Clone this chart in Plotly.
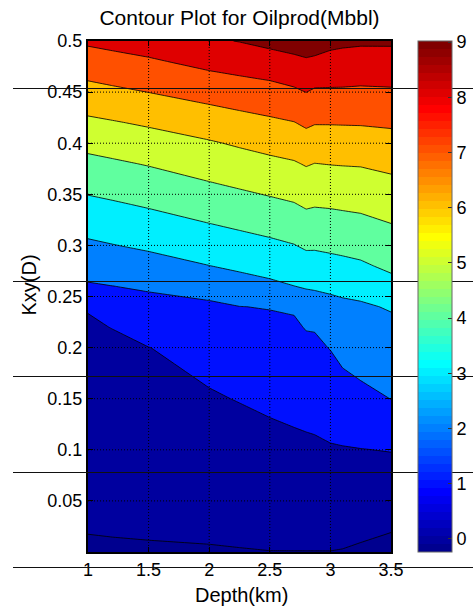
import plotly.graph_objects as go

# ---------------- data ----------------
depth_km = [1.0, 1.2, 1.5, 2.0, 2.25, 2.5, 2.7, 2.8, 2.87, 3.0, 3.1, 3.25, 3.5]
kxy_d = [0.0, 0.05, 0.1, 0.15, 0.2, 0.22, 0.24, 0.26, 0.28, 0.30,
         0.32, 0.34, 0.36, 0.38, 0.40, 0.42, 0.44, 0.46, 0.48, 0.50]
oilprod_mbbl = [
    [-0.08, -0.07, -0.06, -0.05, -0.03, -0.01, -0.01, -0.01, -0.01, -0.01, -0.03, -0.10, -0.24],
    [0.15, 0.17, 0.20, 0.28, 0.32, 0.37, 0.41, 0.42, 0.43, 0.46, 0.46, 0.44, 0.39],
    [0.38, 0.42, 0.47, 0.61, 0.67, 0.76, 0.82, 0.85, 0.87, 0.93, 0.95, 0.98, 1.03],
    [0.61, 0.66, 0.73, 0.93, 1.03, 1.14, 1.23, 1.28, 1.31, 1.46, 1.59, 1.77, 2.01],
    [0.84, 0.90, 0.99, 1.26, 1.57, 1.65, 1.71, 1.82, 1.85, 2.03, 2.27, 2.42, 2.57],
    [0.94, 1.01, 1.35, 1.70, 1.78, 1.84, 1.89, 2.04, 2.05, 2.39, 2.55, 2.66, 2.80],
    [1.03, 1.50, 1.71, 1.93, 1.99, 2.03, 2.08, 2.55, 2.61, 2.75, 2.83, 2.89, 3.07],
    [1.90, 1.99, 2.11, 2.16, 2.60, 2.80, 2.99, 3.07, 3.10, 3.16, 3.22, 3.30, 3.68],
    [2.39, 2.48, 2.64, 2.99, 3.17, 3.34, 3.48, 3.61, 3.62, 3.70, 3.76, 3.87, 4.18],
    [2.85, 2.97, 3.15, 3.48, 3.64, 3.81, 3.97, 4.13, 4.12, 4.19, 4.25, 4.33, 4.58],
    [3.31, 3.44, 3.62, 3.96, 4.13, 4.30, 4.46, 4.62, 4.59, 4.64, 4.69, 4.75, 4.97],
    [3.78, 3.90, 4.09, 4.45, 4.62, 4.80, 4.95, 5.11, 5.06, 5.09, 5.13, 5.19, 5.38],
    [4.26, 4.38, 4.57, 4.94, 5.12, 5.30, 5.43, 5.59, 5.53, 5.56, 5.59, 5.63, 5.79],
    [4.75, 4.87, 5.06, 5.43, 5.61, 5.79, 5.92, 6.07, 5.99, 6.03, 6.05, 6.07, 6.22],
    [5.26, 5.39, 5.58, 5.91, 6.11, 6.30, 6.44, 6.61, 6.52, 6.54, 6.55, 6.57, 6.67],
    [5.81, 5.93, 6.12, 6.48, 6.66, 6.83, 6.97, 7.15, 7.05, 7.05, 7.06, 7.07, 7.13],
    [6.38, 6.51, 6.72, 7.06, 7.23, 7.39, 7.55, 7.72, 7.60, 7.60, 7.60, 7.59, 7.63],
    [6.97, 7.11, 7.30, 7.67, 7.82, 7.96, 8.15, 8.30, 8.17, 8.15, 8.14, 8.10, 8.13],
    [7.56, 7.69, 7.88, 8.27, 8.42, 8.60, 8.78, 8.89, 8.82, 8.70, 8.66, 8.62, 8.63],
    [8.15, 8.28, 8.46, 8.88, 9.03, 9.25, 9.41, 9.49, 9.47, 9.25, 9.18, 9.13, 9.13],
]

level_start, level_end, level_step = 0, 9, 1
x_ticks = [1, 1.5, 2, 2.5, 3, 3.5]
x_tick_text = ["1", "1.5", "2", "2.5", "3", "3.5"]
y_ticks = [0.05, 0.1, 0.15, 0.2, 0.25, 0.3, 0.35, 0.4, 0.45, 0.5]
y_tick_text = ["0.05", "0.1", "0.15", "0.2", "0.25", "0.3", "0.35", "0.4", "0.45", "0.5"]
cbar_ticks = [0, 1, 2, 3, 4, 5, 6, 7, 8, 9]
color_limits = [-0.24, 9.02]

# ---------------- styling ----------------
W, H = 473, 616
ML, MR, MT, MB = 88, 82, 41, 64
PW, PH = W - ML - MR, H - MT - MB
FONT = "Liberation Sans, Arial, Helvetica, sans-serif"


def px_x(px):
    return (px - ML) / PW


def px_y(py):
    return (H - MB - py) / PH


def jet64(i):
    # MATLAB jet(64) colour, 1-based index
    if i <= 24:
        r = 0.0
    elif i <= 40:
        r = (i - 24) / 16
    elif i <= 56:
        r = 1.0
    else:
        r = (72 - i) / 16
    if i <= 8:
        g = 0.0
    elif i <= 24:
        g = (i - 8) / 16
    elif i <= 40:
        g = 1.0
    elif i <= 55:
        g = (56 - i) / 16
    else:
        g = 0.0
    if i <= 8:
        b = (i + 8) / 16
    elif i <= 24:
        b = 1.0
    elif i <= 39:
        b = (40 - i) / 16
    else:
        b = 0.0
    return "rgb(%d,%d,%d)" % (round(r * 255), round(g * 255), round(b * 255))


# continuous (64 step) colour bar scale
bar_scale = []
for i in range(1, 65):
    bar_scale.append([(i - 1) / 64, jet64(i)])
    bar_scale.append([i / 64, jet64(i)])

# band colours for the filled contour (background + 10 bands)
band_index = [1, 2, 9, 16, 23, 30, 37, 44, 51, 58, 64]
fill_scale = [[k / 10, jet64(idx)] for k, idx in enumerate(band_index)]

fig = go.Figure()
fig.add_trace(go.Contour(
    x=depth_km, y=kxy_d, z=oilprod_mbbl,
    autocontour=False,
    contours=dict(start=level_start, end=level_end, size=level_step,
                  coloring="fill", showlines=True),
    colorscale=fill_scale,
    line=dict(color="black", width=0.8, smoothing=0),
    showscale=False, hoverinfo="skip",
))

fig.add_trace(go.Scatter(
    x=[None], y=[None], mode="markers", hoverinfo="skip", showlegend=False,
    marker=dict(color=[color_limits[0]], cmin=color_limits[0], cmax=color_limits[1],
                colorscale=bar_scale, showscale=True,
                colorbar=dict(x=px_x(418), xanchor="left", xref="paper", xpad=0,
                              y=0.5, yanchor="middle", len=1, lenmode="fraction", ypad=0,
                              thickness=34, thicknessmode="pixels",
                              outlinewidth=1, outlinecolor="#666",
                              tickvals=cbar_ticks, ticks="inside", ticklen=4,
                              tickcolor="#333", tickfont=dict(size=18, family=FONT, color="black"))),
))

shapes = []
grid_line = dict(color="black", width=1, dash="1px,2px")
for xv in x_ticks[1:-1]:
    shapes.append(dict(type="line", xref="x", yref="y", x0=xv, x1=xv, y0=0, y1=0.5,
                       line=grid_line, layer="above"))
for yv in y_ticks[:-1]:
    shapes.append(dict(type="line", xref="x", yref="y", x0=1, x1=3.5, y0=yv, y1=yv,
                       line=grid_line, layer="above"))
# scan lines crossing the whole picture
for py in [88, 281, 376, 472, 567]:
    shapes.append(dict(type="line", xref="paper", yref="paper", x0=px_x(13), x1=px_x(473),
                       y0=px_y(py + 0.5), y1=px_y(py + 0.5),
                       line=dict(color="#111", width=1), layer="above"))

axis_common = dict(ticks="inside", ticklen=5, tickwidth=1, tickcolor="black",
                   showline=True, linewidth=2, linecolor="black", mirror="ticks",
                   showgrid=False, zeroline=False, layer="above traces",
                   tickfont=dict(size=18, family=FONT, color="black"))

fig.update_layout(
    width=W, height=H,
    margin=dict(l=ML, r=MR, t=MT, b=MB, autoexpand=False),
    paper_bgcolor="white", plot_bgcolor="white",
    font=dict(family=FONT, size=18, color="black"),
    showlegend=False,
    title=dict(text="Contour Plot for Oilprod(Mbbl)", x=0.5, xref="paper", xanchor="center",
               y=1 - 18 / H, yref="container", yanchor="middle",
               font=dict(size=21, family=FONT, color="black")),
    xaxis=dict(range=[1, 3.5], tickvals=x_ticks, ticktext=x_tick_text, **axis_common),
    yaxis=dict(range=[0, 0.5], tickvals=y_ticks, ticktext=y_tick_text, **axis_common),
    shapes=shapes,
    annotations=[
        dict(text="Depth(km)", xref="paper", yref="paper", x=px_x(241), y=px_y(595),
             xanchor="center", yanchor="middle", showarrow=False,
             font=dict(size=20, family=FONT, color="black")),
        dict(text="Kxy(D)", xref="paper", yref="paper", x=px_x(28.5), y=px_y(285),
             xanchor="center", yanchor="middle", showarrow=False, textangle=-90,
             font=dict(size=20, family=FONT, color="black")),
    ],
)

fig.write_html("out.html")
